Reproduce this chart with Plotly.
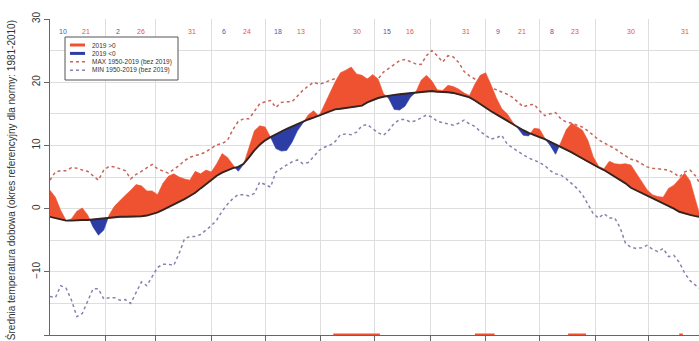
import plotly.graph_objects as go

# Day of year (0 = 1 January), sampled every third day
days = list(range(0, 361, 3)) + [362]

# Daily mean temperature in 2019 [°C]
t2019 = [
    2.9, 1.8, -0.3, -1.9, -1.6, -0.4, 0.1, -1.0, -2.9, -4.2,
    -3.4, -1.0, 0.4, 1.3, 2.1, 2.9, 3.8, 3.6, 2.8, 2.8,
    2.2, 4.0, 5.1, 5.5, 5.0, 4.7, 4.5, 5.9, 5.5, 6.1,
    5.8, 7.1, 8.7, 8.1, 6.9, 5.9, 7.0, 9.5, 12.3, 13.1,
    12.9, 11.3, 9.5, 9.1, 9.2, 10.5, 12.3, 13.5, 14.8, 15.5,
    14.6, 16.3, 18.2, 20.0, 21.5, 21.9, 22.4, 21.3, 21.1, 20.5,
    21.2, 20.5, 18.2, 17.4, 15.7, 15.6, 16.2, 17.6, 18.4, 20.3,
    21.1, 20.2, 18.8, 18.7, 19.5, 19.3, 18.9, 18.3, 17.9, 19.7,
    21.1, 21.5, 19.6, 17.5, 15.8, 15.0, 13.7, 12.7, 11.6, 11.5,
    12.7, 12.6, 11.1, 10.0, 8.6, 10.5, 12.5, 13.5, 13.0, 12.4,
    10.8, 8.2, 6.7, 6.3, 7.5, 7.1, 7.0, 7.1, 6.9, 5.6,
    4.3, 3.0, 2.2, 1.9, 1.8, 3.2, 3.7, 4.7, 5.6, 4.4,
    1.5, -0.6,
]

# Reference norm 1981-2010 [°C]
norm = [
    -1.3, -1.5, -1.7, -1.9, -1.9, -1.8, -1.8, -1.8, -1.7, -1.6,
    -1.6, -1.5, -1.4, -1.3, -1.3, -1.3, -1.3, -1.2, -1.1, -0.9,
    -0.6, -0.2, 0.2, 0.7, 1.1, 1.5, 2.0, 2.5, 3.2, 3.9,
    4.6, 5.2, 5.7, 6.1, 6.4, 6.6, 7.1, 8.1, 9.2, 10.1,
    10.8, 11.3, 11.8, 12.2, 12.6, 13.0, 13.3, 13.7, 14.1, 14.4,
    14.7, 15.1, 15.4, 15.7, 15.8, 15.9, 16.0, 16.1, 16.3, 16.8,
    17.2, 17.5, 17.7, 17.9, 18.0, 18.1, 18.2, 18.3, 18.4, 18.5,
    18.6, 18.6, 18.5, 18.5, 18.4, 18.3, 18.1, 17.9, 17.6, 17.1,
    16.5, 16.0, 15.4, 14.9, 14.4, 13.8, 13.3, 12.8, 12.4, 12.0,
    11.6, 11.3, 11.0, 10.6, 10.2, 9.8, 9.3, 8.9, 8.4, 7.9,
    7.4, 6.9, 6.5, 6.1, 5.6, 5.1, 4.6, 4.0, 3.3, 2.9,
    2.5, 2.0, 1.6, 1.2, 0.8, 0.4, 0.0, -0.5, -0.8, -1.0,
    -1.2, -1.3,
]

# Highest daily mean 1950-2019 (without 2019) [°C]
t_max = [
    4.5, 5.8, 6.0, 6.0, 6.5, 6.4, 6.1, 5.9, 5.2, 4.5,
    6.1, 6.7, 6.6, 6.3, 6.0, 4.7, 5.4, 5.9, 6.4, 7.0,
    6.3, 6.0, 5.6, 6.2, 6.8, 7.6, 8.1, 8.4, 8.6, 9.0,
    9.6, 10.1, 10.3, 10.8, 12.5, 13.8, 14.2, 14.2, 15.4, 16.6,
    16.9, 17.1, 16.0, 16.8, 16.9, 16.9, 17.8, 18.7, 19.4, 20.0,
    19.7, 19.9, 20.3, 20.6, 20.8, 20.8, 20.7, 20.6, 20.7, 20.6,
    20.4, 20.5, 21.6, 22.2, 22.8, 23.4, 23.6, 23.3, 22.9, 22.8,
    24.2, 25.0, 24.2, 23.2, 24.2, 24.0, 23.1, 21.7, 21.0, 20.5,
    20.0, 19.5, 19.1, 18.8, 18.5, 18.1, 17.6, 16.9, 16.1, 16.4,
    16.5, 15.5, 14.7, 15.0, 15.2, 14.2, 13.7, 13.5, 13.2, 12.9,
    12.3, 11.6, 10.9, 10.4, 10.0, 9.5, 8.9, 8.3, 7.8, 7.6,
    7.1, 6.6, 6.4, 6.3, 6.2, 6.1, 5.6, 5.0, 5.8, 6.1,
    5.2, 4.2,
]

# Lowest daily mean 1950-2019 (without 2019) [°C]
t_min = [
    -13.9, -14.1, -12.2, -12.6, -14.5, -17.1, -16.6, -14.5, -12.7, -12.7,
    -14.3, -14.1, -14.1, -14.5, -14.4, -15.0, -13.3, -11.6, -12.2, -10.7,
    -9.3, -8.8, -8.8, -9.0, -7.1, -4.8, -4.4, -4.4, -4.1, -3.4,
    -2.7, -1.8, -0.4, 0.7, 1.6, 2.2, 2.2, 2.0, 2.4, 4.2,
    3.8, 3.4, 5.8, 6.4, 6.9, 7.4, 7.7, 7.1, 7.3, 8.2,
    9.2, 9.7, 10.0, 10.6, 11.7, 11.8, 11.7, 12.1, 13.1, 13.3,
    12.6, 12.0, 11.6, 12.4, 13.5, 14.1, 14.1, 13.7, 13.9, 14.3,
    14.8, 14.5, 13.8, 13.6, 13.4, 13.2, 13.5, 14.0, 13.4, 13.0,
    12.2, 11.6, 11.0, 11.2, 11.6, 10.2, 9.6, 9.0, 8.5, 8.0,
    7.7, 7.3, 6.8, 6.0, 5.5, 5.3, 4.7, 3.9, 3.2, 2.2,
    0.8, -0.8, -1.5, -0.8, -1.5, -1.5, -3.0, -5.5, -6.1, -6.3,
    -6.2, -5.8, -6.4, -6.8, -6.3, -7.6, -7.4, -8.5, -10.2, -11.4,
    -12.1, -12.6,
]

# Periods of 2019 above the previous maximum (first day, last day)
record_periods = [(158, 184), (237, 248), (289, 299), (351, 353)]

# Month starts and monthly counts of days below / above the norm
month_starts = [0, 31, 59, 90, 120, 151, 181, 212, 243, 273, 304, 334]
days_below = [10, 2, 0, 6, 18, 0, 15, 0, 9, 8, 0, 0]
days_above = [21, 26, 31, 24, 13, 30, 16, 31, 21, 23, 30, 31]

RED = "#ee5231"
BLUE = "#2c3da6"
MAX_COL = "#c8645a"
MIN_COL = "#8e7fae"
NORM_COL = "#33241f"
GRID = "#dedede"
FONT = "Liberation Sans"


def regions(x, top, base, sign):
    """Closed polygons between top and base where sign*(top-base) > 0."""
    xs, ys = [], []
    sx, st, sb = [], [], []

    def flush():
        if len(sx) > 1:
            xs.extend(sx + sx[::-1] + [None])
            ys.extend(st + sb[::-1] + [None])
        sx.clear(); st.clear(); sb.clear()

    for i in range(len(x)):
        d = top[i] - base[i]
        inside = d * sign > 0
        if i > 0:
            d0 = top[i - 1] - base[i - 1]
            was = d0 * sign > 0
            if was != inside and d0 != d:
                f = d0 / (d0 - d)
                xc = x[i - 1] + f * (x[i] - x[i - 1])
                yc = base[i - 1] + f * (base[i] - base[i - 1])
                sx.append(xc); st.append(yc); sb.append(yc)
                if not inside:
                    flush()
        if inside:
            sx.append(x[i]); st.append(top[i]); sb.append(base[i])
    flush()
    return xs, ys


assert len(days) == len(t2019) == len(norm) == len(t_max) == len(t_min)

fig = go.Figure()

fig.add_trace(go.Scatter(x=days, y=t_max, mode="lines",
                         line=dict(color=MAX_COL, width=1.5, dash="dot"),
                         hoverinfo="skip"))
fig.add_trace(go.Scatter(x=days, y=t_min, mode="lines",
                         line=dict(color=MIN_COL, width=1.5, dash="dot"),
                         hoverinfo="skip"))

px_, py_ = regions(days, t2019, norm, 1)
nx_, ny_ = regions(days, t2019, norm, -1)
fig.add_trace(go.Scatter(x=px_, y=py_, mode="lines", fill="toself",
                         fillcolor=RED, line=dict(color=RED, width=0.6),
                         hoverinfo="skip"))
fig.add_trace(go.Scatter(x=nx_, y=ny_, mode="lines", fill="toself",
                         fillcolor=BLUE, line=dict(color=BLUE, width=0.6),
                         hoverinfo="skip"))

fig.add_trace(go.Scatter(x=days, y=norm, mode="lines",
                         line=dict(color=NORM_COL, width=1.9),
                         hoverinfo="skip"))

# record markers along the bottom axis
for a, b in record_periods:
    fig.add_trace(go.Scatter(x=[a, b], y=[-20, -20], mode="lines",
                             line=dict(color=RED, width=3),
                             cliponaxis=False, hoverinfo="skip"))

# monthly counts along the top
for start, nb, na in zip(month_starts, days_below, days_above):
    if nb:
        fig.add_annotation(x=start + 7, y=28.1, text=str(nb), showarrow=False,
                           font=dict(family=FONT, size=7, color="#4a5ab8"))
    fig.add_annotation(x=start + 20, y=28.1, text=str(na), showarrow=False,
                       font=dict(family=FONT, size=7, color="#e8553a"))

# legend box (pixel positions inside the plot area)
L, T, W, H = 50, 19, 649, 316


def px(xp):
    return (xp - L) / W


def py(yp):
    return (T + H - yp) / H


fig.add_shape(type="rect", xref="paper", yref="paper",
              x0=px(65), x1=px(178), y0=py(80), y1=py(37),
              line=dict(color="#555555", width=1), fillcolor="white")
legend_items = [
    ("2019 >0", RED, 3, "solid"),
    ("2019 <0", BLUE, 3, "solid"),
    ("MAX 1950-2019 (bez 2019)", MAX_COL, 1.4, "dot"),
    ("MIN 1950-2019 (bez 2019)", MIN_COL, 1.4, "dot"),
]
for k, (label, col, w, dash) in enumerate(legend_items):
    yy = 45 + k * 8.4
    fig.add_shape(type="line", xref="paper", yref="paper",
                  x0=px(70), x1=px(85), y0=py(yy), y1=py(yy),
                  line=dict(color=col, width=w, dash=dash))
    fig.add_annotation(xref="paper", yref="paper", x=px(90), y=py(yy),
                       text=label, showarrow=False, xanchor="left",
                       yanchor="middle",
                       font=dict(family=FONT, size=6.5, color="#333333"))

# y-axis title
fig.add_annotation(xref="paper", yref="paper", x=px(11), y=0.49,
                   text="Średnia temperatura dobowa (okres referencyjny dla normy: 1981-2010)",
                   textangle=-90, showarrow=False, xanchor="center",
                   yanchor="middle",
                   font=dict(family=FONT, size=10, color="#333333"))

fig.update_layout(
    width=699, height=341,
    margin=dict(l=L, r=0, t=T, b=341 - T - H),
    paper_bgcolor="white", plot_bgcolor="white",
    showlegend=False,
    xaxis=dict(range=[0, 362], tickvals=month_starts[1:], showticklabels=False,
               showgrid=True, gridcolor=GRID, gridwidth=1, zeroline=False,
               showline=True, linecolor="#666666", linewidth=1,
               ticks="outside", ticklen=5, tickcolor="#666666"),
    yaxis=dict(range=[-20, 30], tickvals=[-20, -10, 0, 10, 20, 30],
               tickangle=-90, showgrid=True, gridcolor=GRID, gridwidth=1,
               minor=dict(dtick=5, tick0=0, showgrid=True, gridcolor=GRID),
               zeroline=False, showline=True, linecolor="#666666",
               linewidth=1, ticks="outside", ticklen=5, tickcolor="#666666",
               tickfont=dict(family=FONT, size=10, color="#333333")),
)

fig.write_html("out.html")
